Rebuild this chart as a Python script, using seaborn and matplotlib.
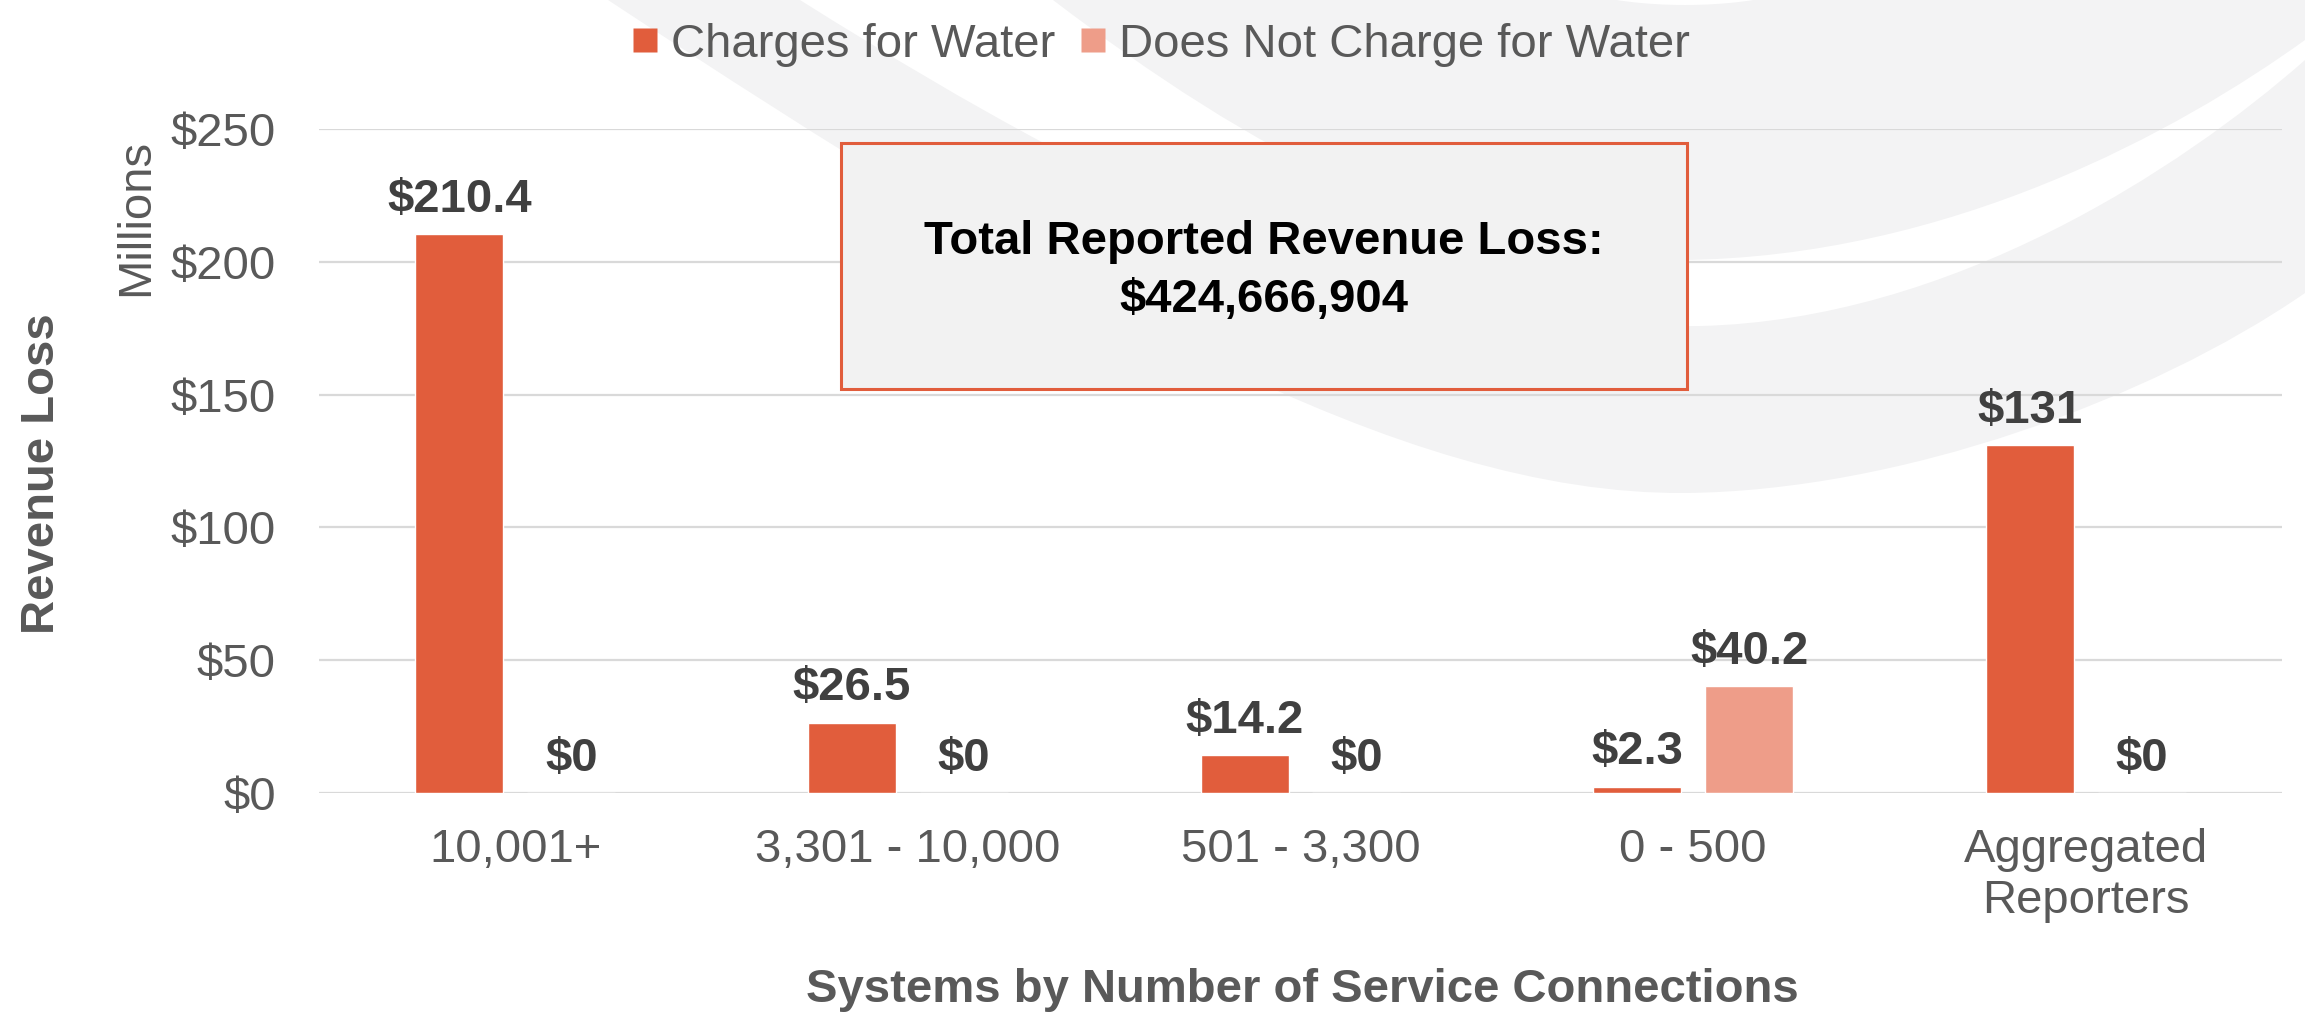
import matplotlib
matplotlib.use("Agg")
import matplotlib.pyplot as plt
import matplotlib.transforms as mtransforms
from matplotlib.path import Path
from matplotlib.patches import PathPatch, Rectangle, Ellipse
from matplotlib.lines import Line2D
import seaborn as sns
import pandas as pd

# ---- data (millions of dollars) ----
categories = ["10,001+", "3,301 - 10,000", "501 - 3,300", "0 - 500", "Aggregated\nReporters"]
series_names = ["Charges for Water", "Does Not Charge for Water"]
charges = [210.4, 26.5, 14.2, 2.3, 131]
no_charge = [0, 0, 0, 40.2, 0]
y_ticks = [0, 50, 100, 150, 200, 250]
total_text = ["Total Reported Revenue Loss:", "$424,666,904"]

colors = {"Charges for Water": "#E15D3C", "Does Not Charge for Water": "#EE9D89"}
GRID = "#D9D9D9"
TICK = "#595959"
LABEL = "#404040"
SWOOSH = "#F3F3F4"

df = pd.DataFrame({
    "System size": categories * 2,
    "Revenue": charges + no_charge,
    "Billing": [series_names[0]] * len(categories) + [series_names[1]] * len(categories),
})

sns.set_theme(style="white")
plt.rcParams["font.family"] = ["Liberation Sans", "DejaVu Sans"]

W, H = 2305, 1023
fig = plt.figure(figsize=(W / 100, H / 100), dpi=100, facecolor="white")

# pixel-space transform (origin top-left) for decorative background elements
px = mtransforms.Affine2D().scale(1 / W, -1 / H).translate(0, 1) + fig.transFigure

# light grey swoosh behind the chart
outer = Path(
    [(608, 0), (1064, 300), (1400, 495), (1685, 493),
     (1900, 491), (2150, 400), (2305, 293),
     (2305, 0), (608, 0), (608, 0)],
    [Path.MOVETO, Path.CURVE4, Path.CURVE4, Path.CURVE4,
     Path.CURVE4, Path.CURVE4, Path.CURVE4,
     Path.LINETO, Path.LINETO, Path.CLOSEPOLY],
)
fig.add_artist(PathPatch(outer, facecolor=SWOOSH, edgecolor="none", transform=px, zorder=-10))

crescent = Path(
    [(1053, 0), (1250, 150), (1450, 262), (1680, 260),
     (1950, 258), (2180, 130), (2305, 40),
     (2305, 60),
     (2180, 170), (1950, 320), (1700, 326),
     (1400, 330), (1150, 220), (800, 0),
     (1053, 0)],
    [Path.MOVETO, Path.CURVE4, Path.CURVE4, Path.CURVE4,
     Path.CURVE4, Path.CURVE4, Path.CURVE4,
     Path.LINETO,
     Path.CURVE4, Path.CURVE4, Path.CURVE4,
     Path.CURVE4, Path.CURVE4, Path.CURVE4,
     Path.CLOSEPOLY],
)
fig.add_artist(PathPatch(crescent, facecolor="white", edgecolor="none", transform=px, zorder=-9))
fig.add_artist(Ellipse((1685, -40), 300, 90, facecolor="white", edgecolor="none", transform=px, zorder=-9))

# ---- bar chart ----
ax = fig.add_axes([319 / W, 1 - 793 / H, (2282 - 319) / W, (793 - 129) / H])
ax.set_facecolor("none")

sns.barplot(
    data=df, x="System size", y="Revenue", hue="Billing",
    hue_order=series_names, palette=colors,
    width=0.57, gap=0.214, saturation=1, ax=ax, zorder=3,
)

for cont in ax.containers:
    ax.bar_label(cont, labels=[f"${v:g}" for v in cont.datavalues],
                 padding=9, fontsize=34, fontweight="bold", color=LABEL)

ax.set_ylim(0, 250)
ax.set_xlim(-0.5, len(categories) - 0.5)
ax.set_yticks(y_ticks)
ax.set_yticklabels([f"${v}" for v in y_ticks])
ax.tick_params(axis="y", length=0, pad=31, labelsize=34, labelcolor=TICK)
ax.tick_params(axis="x", length=0, pad=25, labelsize=34, labelcolor=TICK)
for lbl in ax.get_xticklabels():
    lbl.set_linespacing(1.22)

ax.yaxis.grid(True, color=GRID, linewidth=1.6, zorder=0)
ax.set_axisbelow(True)
for s in ax.spines.values():
    s.set_visible(False)

ax.set_xlabel("")
ax.set_ylabel("")
if ax.get_legend() is not None:
    ax.get_legend().remove()

# axis titles
fig.text(42 / W, 1 - 474 / H, "Revenue Loss", rotation=90, ha="center", va="center",
         fontsize=34, fontweight="bold", color=TICK)
fig.text(136 / W, 1 - 217 / H, "Millions", rotation=90, ha="center", va="center",
         fontsize=34, color=TICK)
fig.text(1302 / W, 1 - 990 / H, "Systems by Number of Service Connections",
         ha="center", va="center", fontsize=34, fontweight="bold", color=TICK)

# legend
handles = [Line2D([], [], marker="s", linestyle="none", markersize=17.3,
                  markerfacecolor=colors[n], markeredgecolor="none") for n in series_names]
fig.legend(handles, series_names, loc="center", bbox_to_anchor=(1160 / W, 1 - 45 / H),
           ncol=2, frameon=False, fontsize=34, labelcolor=TICK,
           handlelength=0.6, handletextpad=0.25, columnspacing=0.5, borderpad=0)

# total callout box
fig.add_artist(Rectangle((841, 143), 1687 - 841, 389 - 143, transform=px,
                         facecolor="#F2F2F2", edgecolor="#E15D3C", linewidth=2.2, zorder=2))
fig.text(1264 / W, 1 - 254 / H, total_text[0], ha="center", va="baseline",
         fontsize=34, fontweight="bold", color="black", zorder=4)
fig.text(1264 / W, 1 - 312 / H, total_text[1], ha="center", va="baseline",
         fontsize=34, fontweight="bold", color="black", zorder=4)

fig.savefig("out.png", dpi=100, facecolor="white")
